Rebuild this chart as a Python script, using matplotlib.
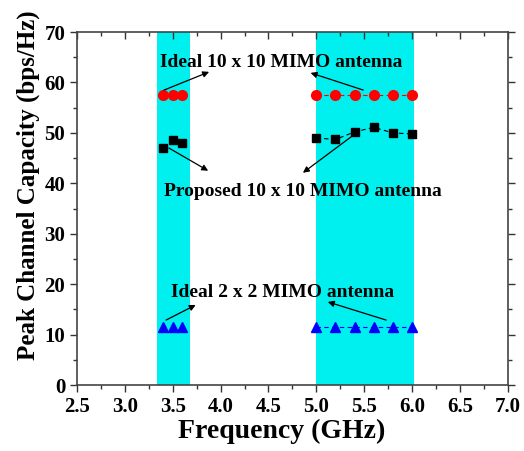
import numpy as np
import matplotlib.pyplot as plt
from matplotlib.ticker import MultipleLocator

plt.rcParams["font.family"] = ["Liberation Serif", "DejaVu Serif"]
plt.rcParams["font.weight"] = "bold"

# data
freq_low = [3.4, 3.5, 3.6]
freq_high = [5.0, 5.2, 5.4, 5.6, 5.8, 6.0]
ideal10_low = [57.5, 57.5, 57.5]
ideal10_high = [57.5, 57.5, 57.5, 57.5, 57.5, 57.5]
prop10_low = [47.0, 48.6, 48.0]
prop10_high = [49.0, 48.7, 50.2, 51.1, 50.0, 49.8]
ideal2_low = [11.5, 11.5, 11.5]
ideal2_high = [11.5, 11.5, 11.5, 11.5, 11.5, 11.5]
bands = [(3.34, 3.68), (5.0, 6.02)]

fig = plt.figure(figsize=(5.24, 4.51), dpi=100)
ax = fig.add_axes([0.147, 0.146, 0.822, 0.783])

for b in bands:
    ax.axvspan(b[0], b[1], color="#00F0F0", lw=0, zorder=0)

ax.plot(freq_low, ideal10_low, "o", color="red", ms=7, ls="none")
ax.plot(freq_high, ideal10_high, "o--", color="red", ms=7, lw=0.8, dashes=(4, 3))
ax.plot(freq_low, prop10_low, "s", color="black", ms=6, ls="none")
ax.plot(freq_high, prop10_high, "s--", color="black", ms=6, lw=0.8, dashes=(4, 3))
ax.plot(freq_low, ideal2_low, "^", color="blue", ms=7, ls="none")
ax.plot(freq_high, ideal2_high, "^--", color="blue", ms=7, lw=0.8, dashes=(4, 3))

fs = 14
ax.text(4.63, 64.0, "Ideal 10 x 10 MIMO antenna", ha="center", va="center", fontsize=fs, fontweight="bold")
ax.text(4.86, 38.3, "Proposed 10 x 10 MIMO antenna", ha="center", va="center", fontsize=fs, fontweight="bold")
ax.text(4.65, 18.3, "Ideal 2 x 2 MIMO antenna", ha="center", va="center", fontsize=fs, fontweight="bold")

arrows = [
    ((3.88, 62.1), (3.41, 58.5)),
    ((4.94, 61.9), (5.49, 58.5)),
    ((3.87, 42.5), (3.46, 47.0)),
    ((4.86, 42.1), (5.39, 49.6)),
    ((3.74, 15.9), (3.43, 12.9)),
    ((5.12, 16.5), (5.73, 12.9)),
]
for head, tail in arrows:
    ax.annotate("", xy=head, xytext=tail,
                arrowprops=dict(arrowstyle="-|>", color="black", lw=0.9,
                                mutation_scale=9, shrinkA=0, shrinkB=0))

ax.set_xlim(2.5, 7.0)
ax.set_ylim(0, 70)
ax.xaxis.set_major_locator(MultipleLocator(0.5))
ax.xaxis.set_minor_locator(MultipleLocator(0.25))
ax.yaxis.set_major_locator(MultipleLocator(10))
ax.yaxis.set_minor_locator(MultipleLocator(5))
ax.xaxis.set_major_formatter(plt.FormatStrFormatter("%.1f"))
ax.tick_params(which="both", direction="out", labelsize=15, width=1.0, color="#333333")
ax.tick_params(which="major", length=5)
ax.tick_params(which="minor", length=3)

# mirrored ticks on top/right pointing inward
ax.tick_params(top=True, right=True, which="both")
for t in ax.xaxis.get_ticklines(minor=False)[1::2] + ax.xaxis.get_ticklines(minor=True)[1::2]:
    t.set_marker(3)
for t in ax.yaxis.get_ticklines(minor=False)[1::2] + ax.yaxis.get_ticklines(minor=True)[1::2]:
    t.set_marker(1)

for sp in ax.spines.values():
    sp.set_color("#444444")
    sp.set_linewidth(1.2)

ax.set_xlabel("Frequency (GHz)", fontsize=20, fontweight="bold", labelpad=1)
ax.set_ylabel("Peak Channel Capacity (bps/Hz)", fontsize=18, fontweight="bold", labelpad=3)
ax.xaxis.label.set_x(0.476)
ax.yaxis.label.set_y(0.567)

fig.savefig("out.png", dpi=100)
